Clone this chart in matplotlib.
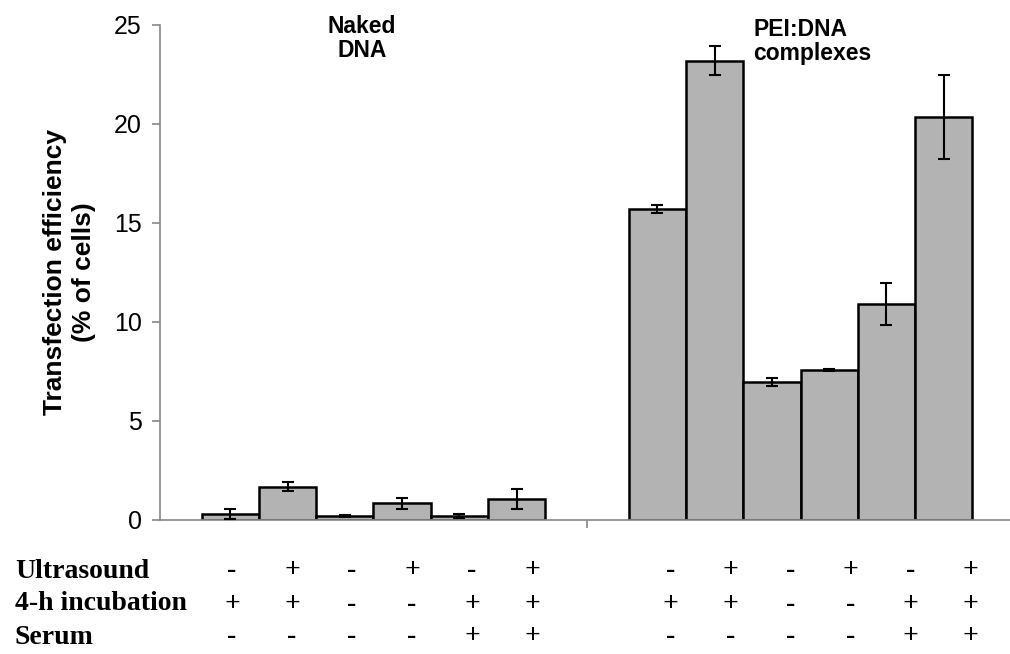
import matplotlib.pyplot as plt
import numpy as np

# two groups, six conditions each
groups = ['Naked\nDNA', 'PEI:DNA\ncomplexes']
naked_vals = [0.3, 1.67, 0.22, 0.85, 0.2, 1.05]
naked_err = [0.25, 0.23, 0.05, 0.28, 0.1, 0.5]
pei_vals = [15.7, 23.2, 6.97, 7.6, 10.9, 20.35]
pei_err = [0.2, 0.75, 0.2, 0.05, 1.05, 2.1]

row_labels = ['Ultrasound', '4-h incubation', 'Serum']
ultrasound = ['-', '+', '-', '+', '-', '+']
incubation = ['+', '+', '-', '-', '+', '+']
serum = ['-', '-', '-', '-', '+', '+']
yticks = [0, 5, 10, 15, 20, 25]

fig = plt.figure(figsize=(10.1, 6.54), dpi=100)
ax = fig.add_axes([0.1584, 0.2049, 0.8416, 0.7569])

w = 0.134
gray = '#b3b3b3'
for g, (vals, errs) in enumerate([(naked_vals, naked_err), (pei_vals, pei_err)]):
    xs = g + (np.arange(6) - 2.5) * w
    ax.bar(xs, vals, width=w, color=gray, edgecolor='black', linewidth=1.8, zorder=2)
    ax.errorbar(xs, vals, yerr=errs, fmt='none', ecolor='black', elinewidth=1.5,
                capsize=4.5, capthick=1.5, zorder=3)

ax.set_xlim(-0.5, 1.4906)
ax.set_ylim(0, 25)
ax.set_yticks(yticks)
ax.set_xticks([0.5])
ax.set_xticklabels([''])
for s in ['top', 'right']:
    ax.spines[s].set_visible(False)
for s in ['left', 'bottom']:
    ax.spines[s].set_color('#888888')
    ax.spines[s].set_linewidth(1.2)
ax.tick_params(axis='both', colors='#888888', length=6, width=1.2, direction='out')
ax.tick_params(axis='y', labelcolor='black', labelsize=18, pad=7)
for lab in ax.get_yticklabels():
    lab.set_family('Liberation Sans')

ax.set_ylabel('Transfection efficiency\n(% of cells)', fontsize=19, fontweight='bold',
              family='Liberation Sans', labelpad=13, linespacing=1.25)

# group titles
ax.text(-0.027, 25.5, groups[0], ha='center', va='top', fontsize=16.5, fontweight='bold',
        family='Liberation Sans', linespacing=1.05)
ax.text(0.89, 25.35, groups[1], ha='left', va='top', fontsize=16.5, fontweight='bold',
        family='Liberation Sans', linespacing=1.05)

# condition table under the axis
row_y = [571, 604, 637]
serif = dict(family='Liberation Serif', fontweight='bold', fontsize=20)
for lab, py in zip(row_labels, row_y):
    fig.text(15 / 1010, 1 - py / 654, lab, ha='left', va='center', **serif)

step = 0.1405
shifts = [0.02, 0.047]
for g in range(2):
    for j in range(6):
        xd = g + (j - 2.5) * step + shifts[g]
        xf = ax.transData.transform((xd, 0))[0] / fig.bbox.width
        for signs, py in zip([ultrasound, incubation, serum], row_y):
            fig.text(xf, 1 - py / 654, signs[j], ha='center', va='center', **serif)

fig.savefig('out.png', dpi=100)
